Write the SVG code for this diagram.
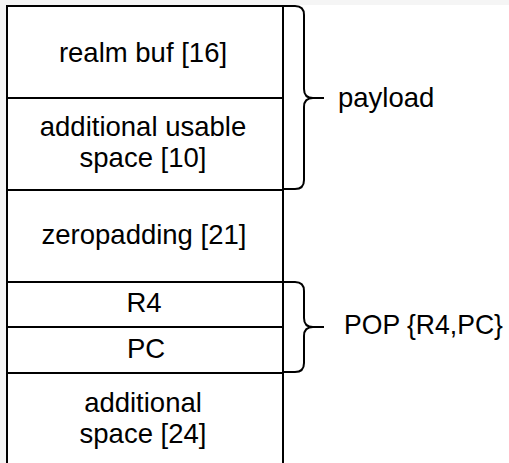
<svg xmlns="http://www.w3.org/2000/svg" width="509" height="463" viewBox="0 0 509 463">
<style>
.cell{fill:#ffffff;stroke:#000000;stroke-width:2}
.brace{fill:none;stroke:#000000;stroke-width:2}
text{font-family:"Liberation Sans",Arial,Helvetica,sans-serif;font-size:27.5px;fill:#000000}
.c{text-anchor:middle}
</style>
<rect x="0" y="0" width="509" height="463" fill="#f5f5f5"/>
<rect x="6" y="5" width="503" height="458" fill="#ffffff"/>
<g id="realm-buf">
<rect class="cell" x="7" y="6" width="276" height="92"/>
<text class="c" x="143" y="62">realm buf [16]</text>
</g>
<g id="additional-usable">
<rect class="cell" x="7" y="98" width="276" height="92"/>
<text class="c" x="143" y="136">additional usable</text>
<text class="c" x="143" y="167">space [10]</text>
</g>
<g id="zeropadding">
<rect class="cell" x="7" y="190" width="276" height="92"/>
<text class="c" x="144" y="244">zeropadding [21]</text>
</g>
<g id="r4">
<rect class="cell" x="7" y="282" width="276" height="45"/>
<text class="c" x="144" y="312">R4</text>
</g>
<g id="pc">
<rect class="cell" x="7" y="327" width="276" height="46"/>
<text class="c" x="146" y="358">PC</text>
</g>
<g id="additional-space">
<rect class="cell" x="7" y="373" width="276" height="110"/>
<text class="c" x="143" y="412">additional</text>
<text class="c" x="143" y="443">space [24]</text>
</g>
<g id="connectors">
<path class="brace" d="M283,6 H295 Q304,6 304,15 V89 Q304,98 313,98 H324 M313,98 Q304,98 304,107 V180 Q304,189 295,189 H283"/>
<path class="brace" d="M283,282 H295 Q304,282 304,291 V318 Q304,327 313,327 H324 M313,327 Q304,327 304,336 V363 Q304,372 295,372 H283"/>
</g>
<g id="payload-label">
<text x="338" y="107">payload</text>
</g>
<g id="pop-label">
<text x="344" y="334" textLength="159" lengthAdjust="spacingAndGlyphs">POP {R4,PC}</text>
</g>
</svg>
